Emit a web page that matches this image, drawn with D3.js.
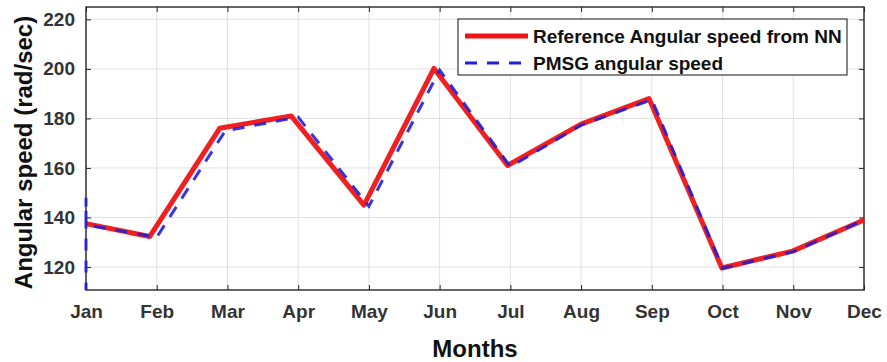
<!DOCTYPE html>
<html>
<head>
<meta charset="utf-8">
<script src="https://cdn.jsdelivr.net/npm/d3@7"></script>
<style>
  html, body { margin: 0; padding: 0; background: #fff; }
  svg { display: block; font-family: "Liberation Sans", Arial, Helvetica, sans-serif; font-weight: bold; }
</style>
</head>
<body>
<svg id="chart" width="887" height="362"></svg>
<script>
// Month labels on the x axis (tick i sits at month index i)
const months = ["Jan", "Feb", "Mar", "Apr", "May", "Jun", "Jul", "Aug", "Sep", "Oct", "Nov", "Dec"];
const yTicks = [120, 140, 160, 180, 200, 220];

// Reference angular speed from the neural network (rad/sec), sampled at fractional month positions
const refX = [0, 0.9, 1.89, 2.9, 3.93, 4.92, 5.96, 7.0, 7.96, 8.99, 9.99, 11];
const refY = [137.5, 132.3, 176, 181, 145, 200.2, 161, 177.7, 188, 119.6, 126.4, 139];

// Measured PMSG angular speed (rad/sec); the first samples are the start-up transient at Jan
const pmsgX = [0, 0, 0, 1, 1.97, 3, 4, 5, 6, 7, 8, 9, 10, 11];
const pmsgY = [100, 148, 137, 132, 175, 180.5, 144.5, 199.5, 160.5, 177.3, 187.6, 119.5, 126.2, 139];

const legendLabels = ["Reference Angular speed from NN", "PMSG angular speed"];

const W = 887, H = 362;
const m = { left: 86, right: 23, top: 7, bottom: 72 };
const iw = W - m.left - m.right, ih = H - m.top - m.bottom;

const svg = d3.select("#chart");
const g = svg.append("g").attr("transform", `translate(${m.left},${m.top})`);

const x = d3.scaleLinear().domain([0, months.length - 1]).range([0, iw]);
const y = d3.scaleLinear().domain([110.7, 225]).range([ih, 0]);

// clip to the plot area, with a little slack on the sides so traces on the edges stay visible
g.append("defs").append("clipPath").attr("id", "plotClip")
  .append("rect").attr("x", -3).attr("width", iw + 6).attr("height", ih);

// grid
g.append("g").selectAll("line").data(d3.range(months.length)).join("line")
  .attr("x1", d => x(d)).attr("x2", d => x(d)).attr("y1", 0).attr("y2", ih)
  .attr("stroke", "#e1e1e1").attr("stroke-width", 1);
g.append("g").selectAll("line").data(yTicks).join("line")
  .attr("x1", 0).attr("x2", iw).attr("y1", d => y(d)).attr("y2", d => y(d))
  .attr("stroke", "#e1e1e1").attr("stroke-width", 1);

// axes with inward ticks
const tickColor = "#262626";
const xAxis = d3.axisBottom(x).tickValues(d3.range(months.length)).tickFormat(i => months[i])
  .tickSizeInner(-5).tickSizeOuter(0).tickPadding(15);
const yAxis = d3.axisLeft(y).tickValues(yTicks).tickSizeInner(-5).tickSizeOuter(0).tickPadding(11);

const gx = g.append("g").attr("transform", `translate(0,${ih})`).call(xAxis);
const gy = g.append("g").call(yAxis);
const gxTop = g.append("g").call(d3.axisTop(x).tickValues(d3.range(months.length)).tickFormat("").tickSizeInner(-5).tickSizeOuter(0));
const gyRight = g.append("g").attr("transform", `translate(${iw},0)`).call(d3.axisRight(y).tickValues(yTicks).tickFormat("").tickSizeInner(-5).tickSizeOuter(0));

[gx, gy, gxTop, gyRight].forEach(a => {
  a.select(".domain").remove();
  a.selectAll(".tick line").attr("stroke", tickColor).attr("stroke-width", 1);
  a.selectAll(".tick text").attr("fill", "#333").attr("font-size", 19).attr("font-weight", "bold")
    .attr("font-family", '"Liberation Sans", Arial, sans-serif');
});
gx.selectAll(".tick text").attr("dy", "0.71em");

// lines
const refData = refX.map((v, i) => [v, refY[i]]);
const pmsgData = pmsgX.map((v, i) => [v, pmsgY[i]]);
const line = d3.line().x(d => x(d[0])).y(d => y(d[1]));

// axes box (drawn under the traces so the Jan transient shows on the left edge)
g.append("rect").attr("width", iw).attr("height", ih)
  .attr("fill", "none").attr("stroke", tickColor).attr("stroke-width", 1.4);

const plot = g.append("g").attr("clip-path", "url(#plotClip)");
plot.append("path").datum(refData).attr("d", line)
  .attr("fill", "none").attr("stroke", "#f01414").attr("stroke-width", 5)
  .attr("stroke-linejoin", "round").attr("opacity", 0.95);
plot.append("path").datum(pmsgData).attr("d", line)
  .attr("fill", "none").attr("stroke", "#2020d8").attr("stroke-width", 3)
  .attr("stroke-dasharray", "12,10").attr("opacity", 0.9);

// axis titles
g.append("text").attr("x", iw / 2).attr("y", H - m.top - 5)
  .attr("text-anchor", "middle").attr("font-size", 24).attr("fill", "#111").text("Months");
svg.append("text").attr("transform", `translate(32,${m.top + ih / 2 + 4}) rotate(-90)`)
  .attr("text-anchor", "middle").attr("font-size", 24).attr("fill", "#111")
  .text("Angular speed (rad/sec)");

// legend
const lg = svg.append("g").attr("transform", "translate(458,19)");
lg.append("rect").attr("width", 389).attr("height", 56)
  .attr("fill", "#fff").attr("stroke", "#111").attr("stroke-width", 1);
const styles = [
  { stroke: "#f01414", width: 5, dash: null },
  { stroke: "#2020d8", width: 3, dash: "12,10" }
];
legendLabels.forEach((lab, i) => {
  const cy = 17 + i * 27;
  lg.append("line").attr("x1", 7).attr("x2", 70).attr("y1", cy).attr("y2", cy)
    .attr("stroke", styles[i].stroke).attr("stroke-width", styles[i].width)
    .attr("stroke-dasharray", styles[i].dash);
  lg.append("text").attr("x", 75).attr("y", cy).attr("dy", "0.36em")
    .attr("font-size", 19).attr("fill", "#111").text(lab);
});
</script>
</body>
</html>
